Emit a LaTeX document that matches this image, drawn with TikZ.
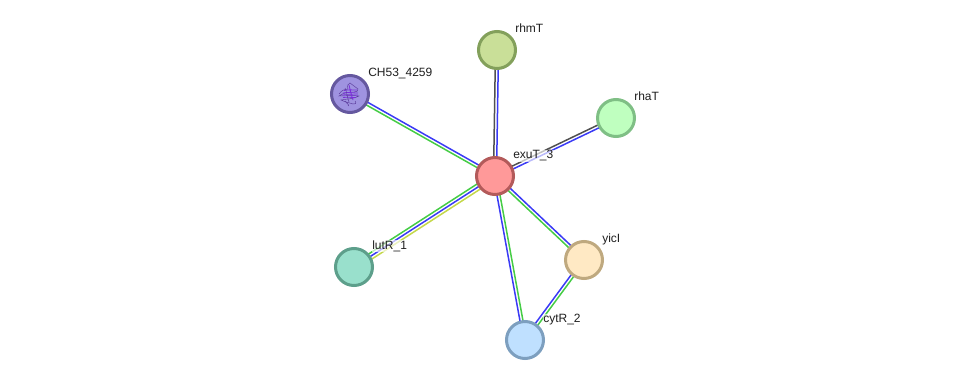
\documentclass[tikz,border=0pt]{standalone}
\usepackage{fontspec}
\setmainfont{Liberation Sans}
\usetikzlibrary{calc,backgrounds}
\definecolor{evBlue}{HTML}{3A3AF5}
\definecolor{evGreen}{HTML}{45CC45}
\definecolor{evGrey}{HTML}{505050}
\definecolor{evYellow}{HTML}{C4D84A}
\definecolor{structDark}{HTML}{5A3A9A}
\definecolor{structBright}{HTML}{7A30D8}
\tikzset{
  protein/.style={circle,draw,line width=3pt,minimum size=37pt,inner sep=0pt},
  genelabel/.style={anchor=base west,inner sep=0.5pt,fill=white,fill opacity=.65,text opacity=1,text=black!88,font=\fontsize{12}{12}\selectfont},
  evidence/.style={line width=1.5pt}
}
% One evidence channel, running parallel to the line between two proteins
\newcommand{\channel}[4]{%
  \draw[evidence,#4] ($(#1.center)!#3!90:(#2.center)$) -- ($(#2.center)!#3!-90:(#1.center)$);}
\begin{document}
\begin{tikzpicture}[x=1pt,y=-1pt]
\useasboundingbox (0,0) rectangle (975,385);

\node[protein,fill={rgb,255:red,255;green,153;blue,153},draw={rgb,255:red,179;green,90;blue,90}] (exuT) at (495,176) {};
\node[protein,fill={rgb,255:red,201;green,223;blue,152},draw={rgb,255:red,131;green,160;blue,91}] (rhmT) at (497,50) {};
\node[protein,fill={rgb,255:red,191;green,255;blue,191},draw={rgb,255:red,127;green,191;blue,133}] (rhaT) at (616,118) {};
\node[protein,fill={rgb,255:red,159;green,147;blue,224},draw={rgb,255:red,101;green,88;blue,159}] (CH) at (350,94) {};
\node[protein,fill={rgb,255:red,153;green,224;blue,204},draw={rgb,255:red,93;green,159;blue,139}] (lutR) at (354,267) {};
\node[protein,fill={rgb,255:red,255;green,233;blue,196},draw={rgb,255:red,191;green,169;blue,127}] (yicI) at (584,260) {};
\node[protein,fill={rgb,255:red,191;green,224;blue,255},draw={rgb,255:red,125;green,159;blue,191}] (cytR) at (525,340) {};

\begin{pgfonlayer}{background}
  \channel{exuT}{rhmT}{1.5pt}{evGrey}
  \channel{exuT}{rhmT}{-1.5pt}{evBlue}
  \channel{exuT}{rhaT}{1.5pt}{evGrey}
  \channel{exuT}{rhaT}{-1.5pt}{evBlue}
  \channel{exuT}{CH}{1.5pt}{evGreen}
  \channel{exuT}{CH}{-1.5pt}{evBlue}
  \channel{exuT}{lutR}{3pt}{evYellow}
  \channel{exuT}{lutR}{0pt}{evBlue}
  \channel{exuT}{lutR}{-3pt}{evGreen}
  \channel{exuT}{yicI}{1.5pt}{evBlue}
  \channel{exuT}{yicI}{-1.5pt}{evGreen}
  \channel{exuT}{cytR}{1.5pt}{evGreen}
  \channel{exuT}{cytR}{-1.5pt}{evBlue}
  \channel{yicI}{cytR}{1.5pt}{evGreen}
  \channel{yicI}{cytR}{-1.5pt}{evBlue}
\end{pgfonlayer}

% Ribbon sketch of the known structure
\begin{scope}[shift={(CH.center)}]
  \draw[structDark,line width=.45pt]
    (-11,0) .. controls (-8,-4) and (-5,-5) .. (-2,-5)
    .. controls (-3,-8) and (-2,-11) .. (0,-11)
    .. controls (3,-9) and (5,-7) .. (8,-5)
    .. controls (9,-3) and (6,-2) .. (4,-2)
    .. controls (0,-2) and (-6,-2) .. (-11,2)
    .. controls (-6,2) and (2,1) .. (9,2)
    .. controls (4,5) and (-4,5) .. (-9,6)
    .. controls (-5,8) and (0,9) .. (3,10)
    .. controls (5,11) and (7,9) .. (5,7);
  \draw[structBright,line width=.8pt]
    (-6,-3.5) .. controls (-2,-4.5) and (2,-4) .. (7,-4)
    (-7,-1) .. controls (-2,-2) and (2,-1) .. (8,-1)
    (-8,1) .. controls (-3,0.5) and (2,1) .. (8,1)
    (-7,3.5) .. controls (-3,3) and (2,3.5) .. (6,3.5)
    (-1,-9) .. controls (0,-5) and (1,0) .. (3,6);
  \draw[structDark,line width=.45pt]
    (-5,7) .. controls (-3,10) and (0,11) .. (-2,12)
    (-5,-6) .. controls (-3,-2) and (-3,3) .. (-1,8);
\end{scope}

\node[genelabel] (lblexuT) at (512.6,158.7) {exuT\_3};
\node[genelabel] (lblrhmT) at (514.6,32.7) {rhmT};
\node[genelabel] (lblrhaT) at (633.6,100.7) {rhaT};
\node[genelabel] (lblCH) at (367.6,76.7) {CH53\_4259};
\node[genelabel] (lbllutR) at (371.6,249.5) {lutR\_1};
\node[genelabel] (lblyicI) at (601.6,242.5) {yicI};
\node[genelabel] (lblcytR) at (542.6,322.5) {cytR\_2};
\end{tikzpicture}
\end{document}
